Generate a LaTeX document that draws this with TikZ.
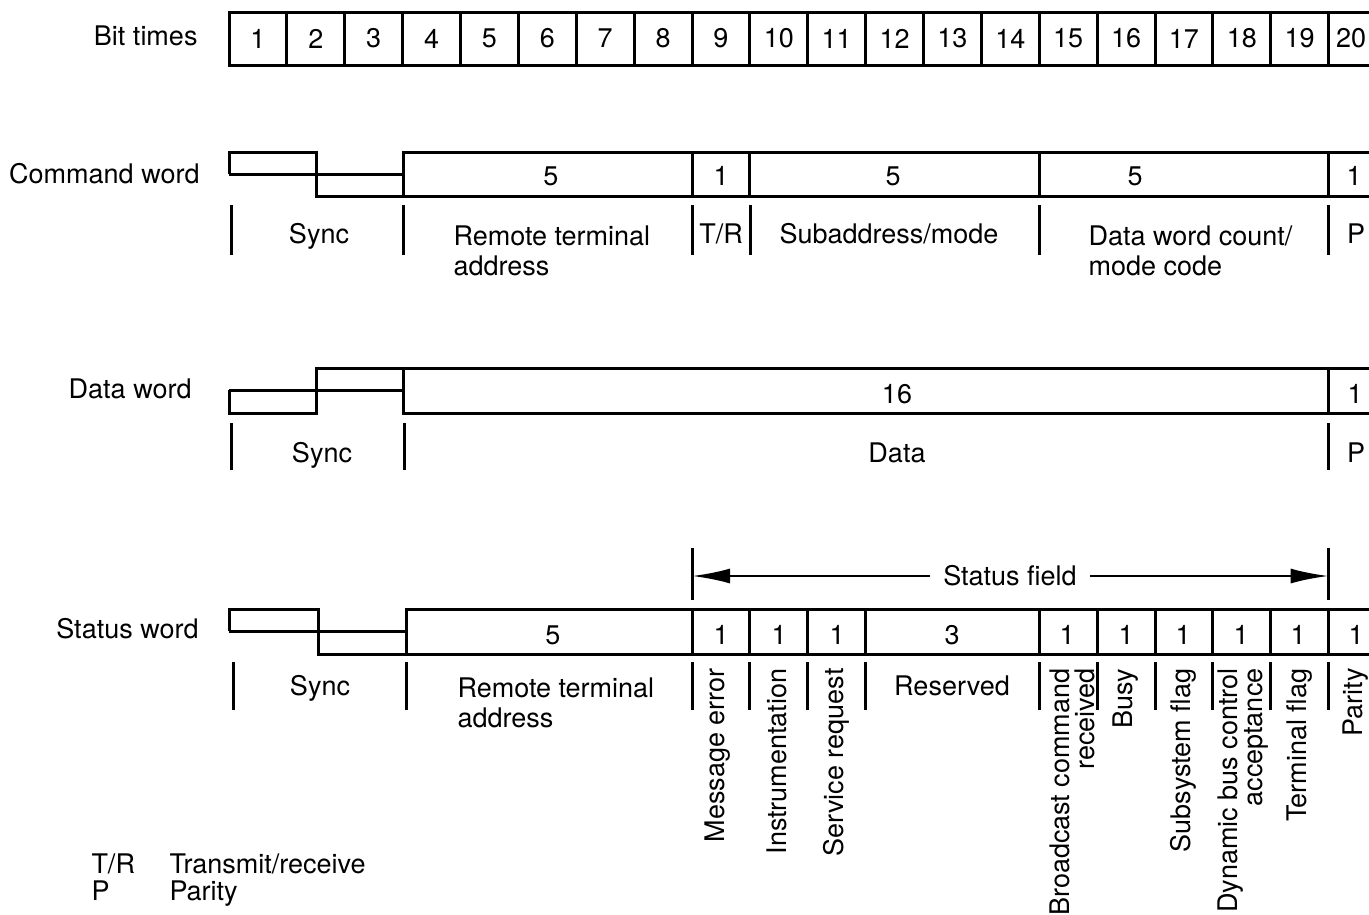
\documentclass[tikz,border=0pt]{standalone}
\usepackage{fontspec}
\setmainfont{TeX Gyre Heros}
\usetikzlibrary{arrows.meta}
\begin{document}
\begin{tikzpicture}[x=1pt,y=-1pt,line width=3pt,
  font=\fontsize{27}{30}\selectfont,
  lbl/.style={inner sep=0pt},
  vlbl/.style={inner sep=0pt,rotate=90,anchor=east,align=right,font=\fontsize{27}{25}\selectfont},
  arr/.style={-{Latex[length=38pt,width=15pt]},line width=2.6pt}]
\useasboundingbox (0,0) rectangle (1369,914);
\clip (0,0) rectangle (1369,914);
% ---------------- Bit times ----------------
\node[lbl,anchor=base east] (bitlbl) at (199,45) {Bit times};
\draw (229,12) rectangle (1386.5,65);
\foreach \i in {1,...,19}{
  \draw ({229+\i*57.875},12) -- ({229+\i*57.875},65);
}
\foreach \i in {1,...,19}{
  \node[lbl] (t\i) at ({229+(\i-0.5)*57.875},38.5) {\i};
}
\node[lbl] (t20) at (1351,38.5) {20};
% ---------------- Command word ----------------
\node[lbl,anchor=base east] (cwl) at (201,183) {Command word};
\draw (229,174) -- (403,174);
\draw (229,174) -- (229,152) -- (316,152) -- (316,196) -- (1386,196);
\draw (403,196) -- (403,152) -- (1386,152);
\foreach \x in {692,749.9,1039.3,1328.6}{ \draw (\x,152) -- (\x,196); }
\node[lbl] (c5a) at (551,176) {5};
\node[lbl] (c1a) at (721,176) {1};
\node[lbl] (c5b) at (893,176) {5};
\node[lbl] (c5c) at (1135,176) {5};
\node[lbl] (c1b) at (1354,176) {1};
\foreach \x in {231,403,692,750,1039,1328.6}{ \draw (\x,205) -- (\x,255); }
\node[lbl,anchor=base] (csync) at (319,243) {Sync};
\node[lbl,anchor=north west,align=left] (crta) at (452,224) {Remote terminal\\address};
\node[lbl,anchor=base] (ctr) at (721,243) {T/R};
\node[lbl,anchor=base] (csub) at (889,243) {Subaddress/mode};
\node[lbl,anchor=north west,align=left] (cdwc) at (1087,224) {Data word count/\\mode code};
\node[lbl,anchor=base] (cp) at (1356,243) {P};
% ---------------- Data word ----------------
\node[lbl,anchor=base east] (dwl) at (193,398) {Data word};
\draw (229,390) -- (403,390);
\draw (229,390) -- (229,413) -- (316,413) -- (316,368) -- (1386,368);
\draw (403,368) -- (403,413) -- (1386,413);
\draw (1328.6,368) -- (1328.6,413);
\node[lbl] (d16) at (897,394) {16};
\node[lbl] (d1) at (1355,394) {1};
\foreach \x in {231,404,1328.6}{ \draw (\x,423) -- (\x,470); }
\node[lbl,anchor=base] (dsync) at (322,462) {Sync};
\node[lbl,anchor=base] (ddata) at (897,462) {Data};
\node[lbl,anchor=base] (dp) at (1356,462) {P};
% ---------------- Status field arrow ----------------
\draw (692,548) -- (692,600);
\draw (1328.6,548) -- (1328.6,600);
\coordinate (sfl) at (692,576);
\coordinate (sfr) at (1328.6,576);
\node[inner sep=0pt,inner xsep=12pt] (sf) at (1010,576) {Status field};
\draw[arr] (sf.west) -- (sfl);
\draw[arr] (sf.east) -- (sfr);
% ---------------- Status word ----------------
\node[lbl,anchor=base east] (swl) at (200,638) {Status word};
\draw (229,631) -- (406,631);
\draw (229,631) -- (229,609) -- (318,609) -- (318,654) -- (1386,654);
\draw (406,654) -- (406,609) -- (1386,609);
\foreach \x in {692,749.9,807.8,865.6,1039.3,1097.1,1155,1212.9,1270.8,1328.6}{ \draw (\x,609) -- (\x,654); }
\node[lbl] (s5) at (553,635) {5};
\node[lbl] (s1a) at (721,635) {1};
\node[lbl] (s1b) at (779,635) {1};
\node[lbl] (s1c) at (837,635) {1};
\node[lbl] (s3) at (952,635) {3};
\node[lbl] (s1d) at (1067,635) {1};
\node[lbl] (s1e) at (1126,635) {1};
\node[lbl] (s1f) at (1183,635) {1};
\node[lbl] (s1g) at (1241,635) {1};
\node[lbl] (s1h) at (1298,635) {1};
\node[lbl] (s1i) at (1356,635) {1};
\foreach \x in {233,406,692,749.9,807.8,865.6,1039.3,1097.1,1155,1212.9,1270.8,1328.6}{ \draw (\x,662) -- (\x,710); }
\node[lbl,anchor=base] (ssync) at (320,695) {Sync};
\node[lbl,anchor=north west,align=left] (srta) at (456,676) {Remote terminal\\address};
\node[lbl,anchor=base] (sres) at (952,695) {Reserved};
\node[vlbl] (sme) at (718,667) {Message error};
\node[vlbl] (sin) at (777,667) {Instrumentation};
\node[vlbl] (ssr) at (836,667) {Service request};
\node[vlbl] (sbc) at (1072,667) {Broadcast command\\received};
\node[vlbl] (sbu) at (1126,667) {Busy};
\node[vlbl] (ssf) at (1183,667) {Subsystem flag};
\node[vlbl] (sdb) at (1243,667) {Dynamic bus control\\acceptance};
\node[vlbl] (stf) at (1300,667) {Terminal flag};
\node[vlbl] (spa) at (1356,667) {Parity};
% ---------------- Legend ----------------
\node[lbl,anchor=base west] (ltr) at (90,873) {T/R};
\node[lbl,anchor=base west] (ltrt) at (168,873) {Transmit/receive};
\node[lbl,anchor=base west] (lp) at (90,900) {P};
\node[lbl,anchor=base west] (lpt) at (168,900) {Parity};
\end{tikzpicture}
\end{document}
